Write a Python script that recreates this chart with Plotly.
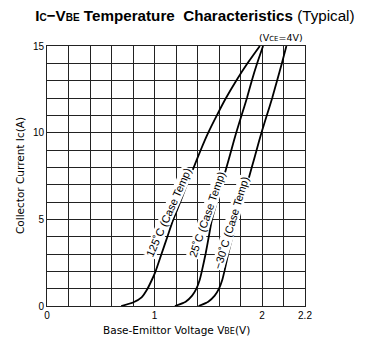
import plotly.graph_objects as go

# Collector current Ic (A) vs base-emitter voltage VBE (V)
ic_125 = [0, 0.2, 0.5, 1.0, 1.5, 2.0, 3.0, 4.0, 5.0, 6.0, 7.0, 8.0, 9.0, 10.0, 11.0, 12.0, 13.0, 14.0, 15.0]
vbe_125 = [0.69, 0.80, 0.88, 0.935, 0.975, 1.01, 1.065, 1.12, 1.175, 1.24, 1.30, 1.365, 1.43, 1.50, 1.58, 1.665, 1.76, 1.865, 1.98]

ic_25 = [0, 0.25, 0.6, 1.0, 1.5, 2.0, 3.0, 4.0, 5.0, 6.0, 7.0, 8.0, 9.0, 10.0, 11.0, 12.0, 13.0, 14.0, 15.0]
vbe_25 = [1.19, 1.29, 1.35, 1.39, 1.42, 1.44, 1.475, 1.505, 1.535, 1.58, 1.625, 1.67, 1.715, 1.76, 1.81, 1.86, 1.905, 1.955, 2.01]

ic_m30 = [0, 0.25, 0.6, 1.0, 1.5, 2.0, 3.0, 4.0, 5.0, 6.0, 7.0, 8.0, 9.0, 10.0, 11.0, 12.0, 13.0, 14.0, 15.0]
vbe_m30 = [1.41, 1.50, 1.56, 1.60, 1.63, 1.65, 1.685, 1.725, 1.77, 1.815, 1.86, 1.905, 1.95, 1.995, 2.045, 2.095, 2.14, 2.185, 2.227]

curve_labels = ["125˚C (Case Temp)", "25˚C (Case Temp)", "−30˚C (Case Temp)"]

x_tick_vals = [0, 0.2, 0.4, 0.6, 0.8, 1.0, 1.2, 1.4, 1.6, 1.8, 2.0, 2.2, 2.4]
x_tick_text = ["0", "", "", "", "", "1", "", "", "", "", "2", "", "2.2"]
y_tick_vals = [0, 1, 2, 3, 4, 5, 6, 7, 8, 9, 10, 11, 12, 13, 14, 15]
y_tick_text = ["0", "", "", "", "", "5", "", "", "", "", "10", "", "", "", "", "15"]

fig = go.Figure()
for v, i in [(vbe_125, ic_125), (vbe_25, ic_25), (vbe_m30, ic_m30)]:
    fig.add_trace(go.Scatter(x=v, y=i, mode="lines",
                             line=dict(color="black", width=1.8, shape="spline", smoothing=0.6),
                             showlegend=False, hoverinfo="skip"))

label_pos = [(1.135, 5.4, -66), (1.49, 5.3, -71), (1.712, 4.8, -73)]
for txt, (lx, ly, ang) in zip(curve_labels, label_pos):
    fig.add_annotation(x=lx, y=ly, xref="x", yref="y", text=txt, showarrow=False,
                       textangle=ang, bgcolor="white", borderpad=0,
                       font=dict(family="Liberation Sans, Arial", size=11, color="black"))

fig.add_annotation(x=1, y=1, xref="paper", yref="paper", xanchor="right", yanchor="bottom",
                   yshift=1, showarrow=False,
                   text="(V<span style='font-size:7px'>CE</span>=4V)",
                   font=dict(family="DejaVu Sans", size=9.5, color="black"))

# axis titles
fig.add_annotation(x=0.5, y=0, xref="paper", yref="paper", xanchor="center", yanchor="middle",
                   yshift=-24, showarrow=False,
                   text="Base-Emittor Voltage V<span style='font-size:8px'>BE</span>(V)",
                   font=dict(family="DejaVu Sans", size=10.5, color="black"))
fig.add_annotation(x=0, y=0.5, xref="paper", yref="paper", xanchor="center", yanchor="middle",
                   xshift=-27, showarrow=False, textangle=-90,
                   text="Collector Current Ic(A)",
                   font=dict(family="DejaVu Sans", size=10.5, color="black"))

fig.update_layout(
    width=377, height=361,
    margin=dict(l=47, r=72, t=46, b=55),
    paper_bgcolor="white", plot_bgcolor="white",
    title=dict(
        text="<b>I<span style='font-size:10px'>C</span>−V<span style='font-size:10px'>BE</span> Temperature  Characteristics</b> (Typical)",
        x=0.517, xref="container", xanchor="center",
        y=1 - 16 / 361, yref="container", yanchor="middle",
        font=dict(family="Liberation Sans, Arial", size=15.2, color="black")),
    xaxis=dict(range=[0, 2.4], tickvals=x_tick_vals, ticktext=x_tick_text,
               showgrid=True, gridcolor="#222", gridwidth=1, zeroline=False,
               showline=True, linecolor="#222", linewidth=1, mirror=True, ticks="",
               automargin=False,
               tickfont=dict(family="Liberation Sans, Arial", size=10, color="black")),
    yaxis=dict(range=[0, 15], tickvals=y_tick_vals, ticktext=y_tick_text,
               showgrid=True, gridcolor="#222", gridwidth=1, zeroline=False,
               showline=True, linecolor="#222", linewidth=1, mirror=True, ticks="",
               automargin=False,
               tickfont=dict(family="Liberation Sans, Arial", size=10, color="black")),
)

fig.write_html("out.html", config={"displayModeBar": False},
               post_script="document.body.style.margin='0';")
